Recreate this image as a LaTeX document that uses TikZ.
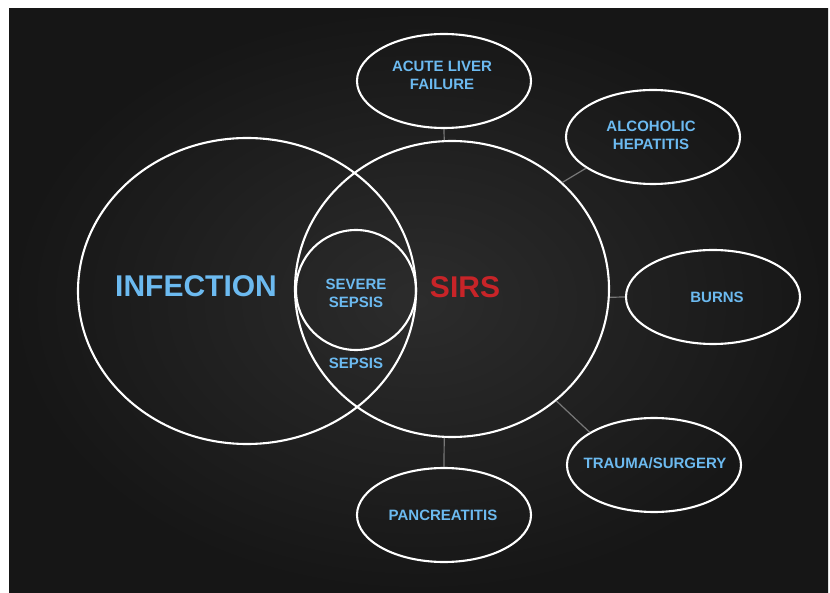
\documentclass[tikz,border=0pt]{standalone}
\usepackage{fontspec}
\setmainfont{Liberation Sans}
\usetikzlibrary{shapes.geometric}
\definecolor{lblue}{RGB}{108,186,240}
\definecolor{sred}{RGB}{200,36,40}
\definecolor{bgin}{RGB}{44,44,44}
\definecolor{bgout}{RGB}{22,22,22}
\definecolor{conn}{RGB}{120,120,120}
\tikzset{
  ring/.style={ellipse, draw=white, line width=2.1pt, inner sep=0pt},
  cause/.style={ring, minimum width=174pt, minimum height=94pt},
  small/.style={text=lblue, font=\fontsize{15}{18}\selectfont\bfseries, align=center, inner sep=0pt},
  big/.style={font=\fontsize{30}{34}\selectfont\bfseries, inner sep=0pt},
  link/.style={draw=conn, line width=1.2pt}
}
\begin{document}
\begin{tikzpicture}[x=1pt,y=-1pt]
\useasboundingbox (0,0) rectangle (830,593);
\fill[white] (0,0) rectangle (830,593);
\shade[inner color=bgin, outer color=bgout] (9,9) rectangle (828,593);
% main circles
\node[ring, minimum width=338pt, minimum height=306pt] (inf) at (247,291) {};
\node[ring, minimum width=314pt, minimum height=296pt] (sirs) at (452,289) {};
\node[ring, minimum width=120pt, minimum height=120pt] (sev) at (356,290) {};
% causes
\node[cause] (alf) at (444,81) {};
\node[cause] (alc) at (653,137) {};
\node[cause] (burn) at (713,297) {};
\node[cause] (trau) at (654,465) {};
\node[cause] (panc) at (444,515) {};
% connectors
\draw[link] (alf.south) -- (sirs.93);
\draw[link] (sirs.44) -- (alc.205);
\draw[link] (sirs.-3) -- (burn.west);
\draw[link] (sirs.-47) -- (trau.153);
\draw[link] (sirs.-93.5) -- (panc.north);
% texts
\node[big, text=lblue] (tinf) at (196,286) {INFECTION};
\node[big, text=sred] (tsirs) at (465,287) {SIRS};
\node[small] (tsev) at (356,293) {SEVERE\\SEPSIS};
\node[small] (tsep) at (356,363) {SEPSIS};
\node[small] (talf) at (442,75) {ACUTE LIVER\\FAILURE};
\node[small] (talc) at (651,135) {ALCOHOLIC\\HEPATITIS};
\node[small] (tburn) at (717,297) {BURNS};
\node[small] (ttrau) at (655,463) {TRAUMA/SURGERY};
\node[small] (tpanc) at (443,515) {PANCREATITIS};
\end{tikzpicture}
\end{document}
